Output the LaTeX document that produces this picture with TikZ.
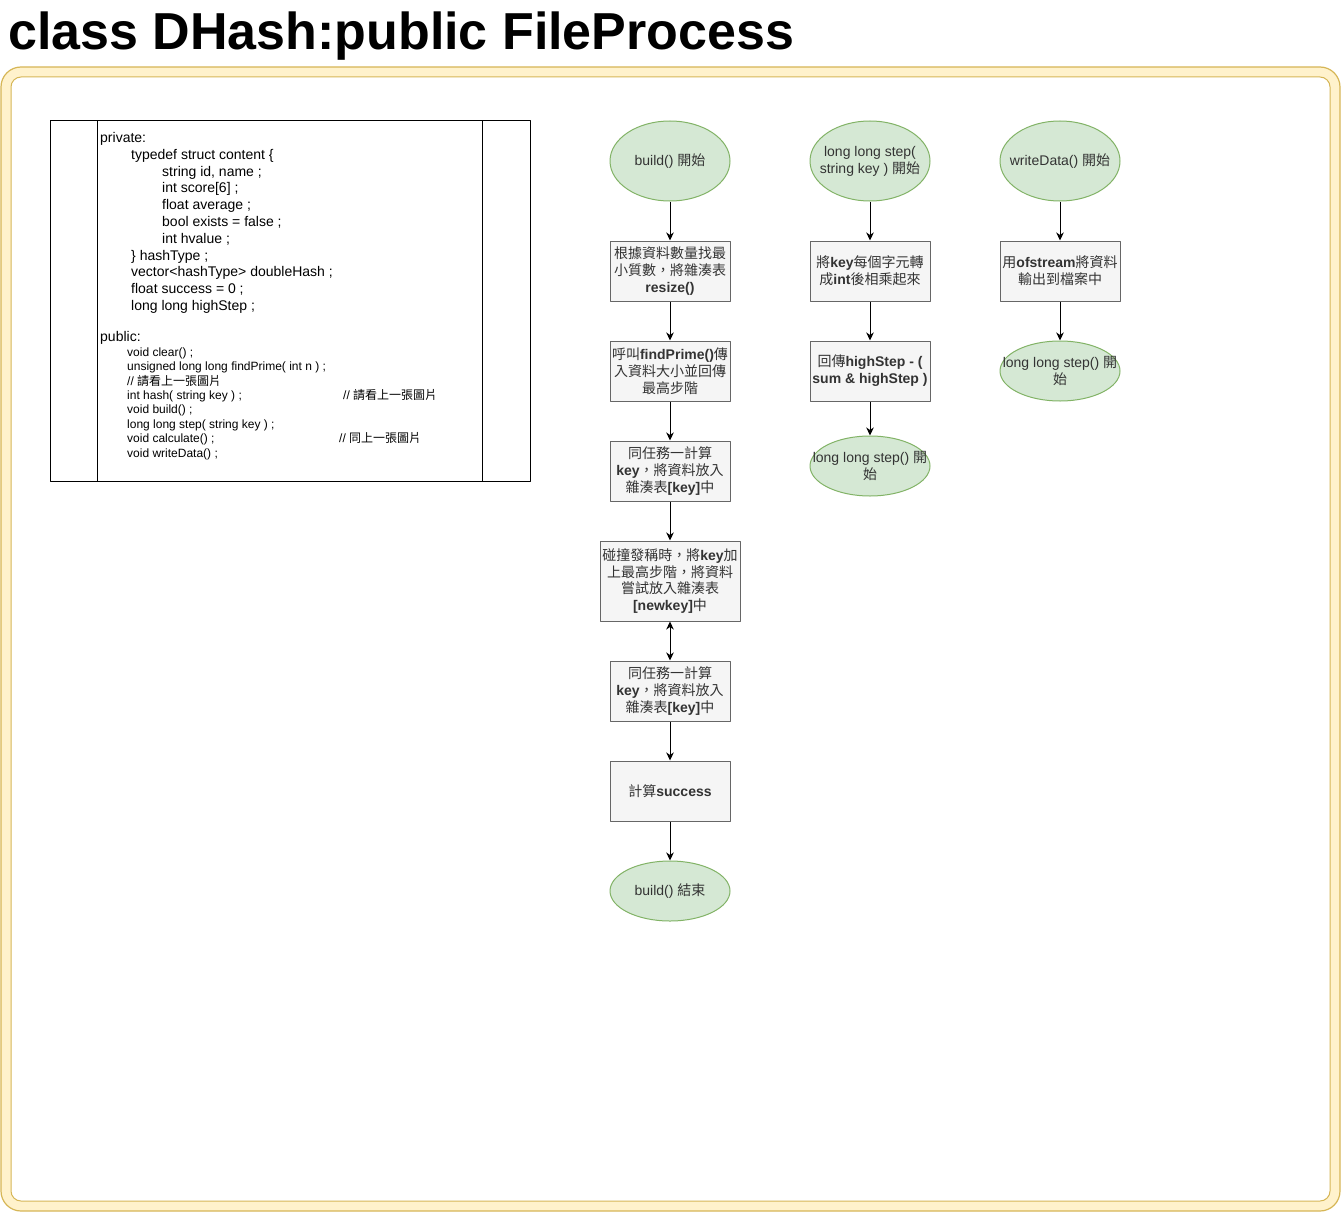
\documentclass[tikz,border=0pt]{standalone}
\usepackage{fontspec}
\setmainfont{Liberation Sans}
\newfontfamily\cjk[Script=CJK,Language=Chinese Traditional]{Noto Sans CJK TC}
\newcommand\zh[1]{{\cjk #1}}
\newcommand\flowfont{\fontsize{14pt}{16.8pt}\selectfont}
\newcommand\codefont{\fontsize{14pt}{16.8pt}\selectfont}
\newcommand\smallcodefont{\fontsize{12pt}{14.4pt}\selectfont}
\newcommand\titlefont{\fontsize{52pt}{62pt}\selectfont\bfseries}
\usetikzlibrary{shapes.geometric,arrows.meta}
\definecolor{boxfill}{HTML}{F5F5F5}
\definecolor{boxline}{HTML}{666666}
\definecolor{txt}{HTML}{333333}
\definecolor{ovalfill}{HTML}{D5E8D4}
\definecolor{ovalline}{HTML}{82B366}
\definecolor{lanefill}{HTML}{FFF2CC}
\definecolor{laneline}{HTML}{D6B656}
\begin{document}
\begin{tikzpicture}[x=1pt, y=-1pt, line join=round, >={Stealth[length=8pt,width=7.5pt,inset=2.5pt]},
box/.style={rectangle, draw=boxline, fill=boxfill, text=txt, minimum width=120pt, minimum height=60pt, inner sep=0pt, align=center, font=\flowfont, line width=1pt},
oval/.style={ellipse, draw=ovalline, fill=ovalfill, minimum width=120pt, minimum height=80pt, inner sep=0pt, line width=1pt},
ovaltxt/.style={text=txt, align=center, font=\flowfont, inner sep=0pt},
code/.style={anchor=base west, inner sep=0pt, font=\codefont},
smallcode/.style={anchor=base west, inner sep=0pt, font=\smallcodefont}]
\useasboundingbox (0,0) rectangle (1341,1212);

\node[anchor=base west, inner sep=0pt, font=\titlefont] (title) at (8,50) {class DHash:public FileProcess};

\draw[draw=laneline, fill=lanefill, line width=1.2pt, rounded corners=20pt] (1,67) rectangle (1340,1211);
\draw[draw=laneline, fill=white, line width=1pt, rounded corners=10pt] (11,77) rectangle (1330,1201);

% class members
\node[draw, line width=1pt, minimum width=480pt, minimum height=360pt, inner sep=0pt] (cls) at (290,301) {};
\draw[line width=1pt] ([xshift=48pt]cls.north west) -- ([xshift=48pt]cls.south west);
\draw[line width=1pt] ([xshift=-48pt]cls.north east) -- ([xshift=-48pt]cls.south east);
\node[code] (pv1) at (100,142.4) {private:};
\node[code] (pv2) at (131,159.2) {typedef struct content \{};
\node[code] (pv3) at (162,176) {string id, name ;};
\node[code] (pv4) at (162,192.8) {int score[6] ;};
\node[code] (pv5) at (162,209.6) {float average ;};
\node[code] (pv6) at (162,226.4) {bool exists = false ;};
\node[code] (pv7) at (162,243.2) {int hvalue ;};
\node[code] (pv8) at (131,260) {\} hashType ;};
\node[code] (pv9) at (131,276.8) {vector<hashType> doubleHash ;};
\node[code] (pv10) at (131,293.6) {float success = 0 ;};
\node[code] (pv11) at (131,310.4) {long long highStep ;};
\node[code] (pb0) at (100,341.4) {public:};
\node[smallcode] (pb1) at (127,356.2) {void clear() ;};
\node[smallcode] (pb2) at (127,370.6) {unsigned long long findPrime( int n ) ;};
\node[smallcode] (pb3) at (127,385) {// \zh{請看上一張圖片}};
\node[smallcode] (pb4) at (127,399.4) {int hash( string key ) ;};
\node[smallcode] (pb4c) at (343,399.4) {// \zh{請看上一張圖片}};
\node[smallcode] (pb5) at (127,413.8) {void build() ;};
\node[smallcode] (pb6) at (127,428.2) {long long step( string key ) ;};
\node[smallcode] (pb7) at (127,442.6) {void calculate() ;};
\node[smallcode] (pb7c) at (339,442.6) {// \zh{同上一張圖片}};
\node[smallcode] (pb8) at (127,457) {void writeData() ;};

% build()
\node[oval, label={[ovaltxt]center:{build() \zh{開始}}}] (b0) at (670,161) {};
\node[box] (b1) at (670,271) {\zh{根據資料數量找最}\\\zh{小質數，將雜湊表}\\\textbf{resize()}};
\node[box] (b2) at (670,371) {\zh{呼叫}\textbf{findPrime()}\zh{傳}\\\zh{入資料大小並回傳}\\\zh{最高步階}};
\node[box] (b3) at (670,471) {\zh{同任務一計算}\\\textbf{key}\zh{，將資料放入}\\\zh{雜湊表}\textbf{[key]}\zh{中}};
\node[box, minimum width=140pt, minimum height=80pt] (b4) at (670,581) {\zh{碰撞發稱時，將}\textbf{key}\zh{加}\\\zh{上最高步階，將資料}\\\zh{嘗試放入雜湊表}\\\textbf{[newkey]}\zh{中}};
\node[box] (b5) at (670,691) {\zh{同任務一計算}\\\textbf{key}\zh{，將資料放入}\\\zh{雜湊表}\textbf{[key]}\zh{中}};
\node[box] (b6) at (670,791) {\zh{計算}\textbf{success}};
\node[oval, minimum height=60pt, label={[ovaltxt]center:{build() \zh{結束}}}] (b7) at (670,891) {};

% step()
\node[oval, label={[ovaltxt]center:{long long step(\\string key ) \zh{開始}}}] (t0) at (870,161) {};
\node[box] (t1) at (870,271) {\zh{將}\textbf{key}\zh{每個字元轉}\\\zh{成}\textbf{int}\zh{後相乘起來}};
\node[box] (t2) at (870,371) {\zh{回傳}\textbf{highStep - (}\\\textbf{sum \& highStep )}};
\node[oval, minimum height=60pt, label={[ovaltxt]center:{long long step() \zh{開}\\\zh{始}}}] (t3) at (870,466) {};

% writeData()
\node[oval, label={[ovaltxt]center:{writeData() \zh{開始}}}] (w0) at (1060,161) {};
\node[box] (w1) at (1060,271) {\zh{用}\textbf{ofstream}\zh{將資料}\\\zh{輸出到檔案中}};
\node[oval, minimum height=60pt, label={[ovaltxt]center:{long long step() \zh{開}\\\zh{始}}}] (w2) at (1060,371) {};

\foreach \from/\to in {b0/b1,b1/b2,b2/b3,b3/b4,b5/b6,b6/b7,t0/t1,t1/t2,t2/t3,w0/w1,w1/w2}
\draw[->, line width=1pt]
(\from)--(\to)
;
\draw[<->, line width=1pt] (b4)--(b5);
\end{tikzpicture}
\end{document}
